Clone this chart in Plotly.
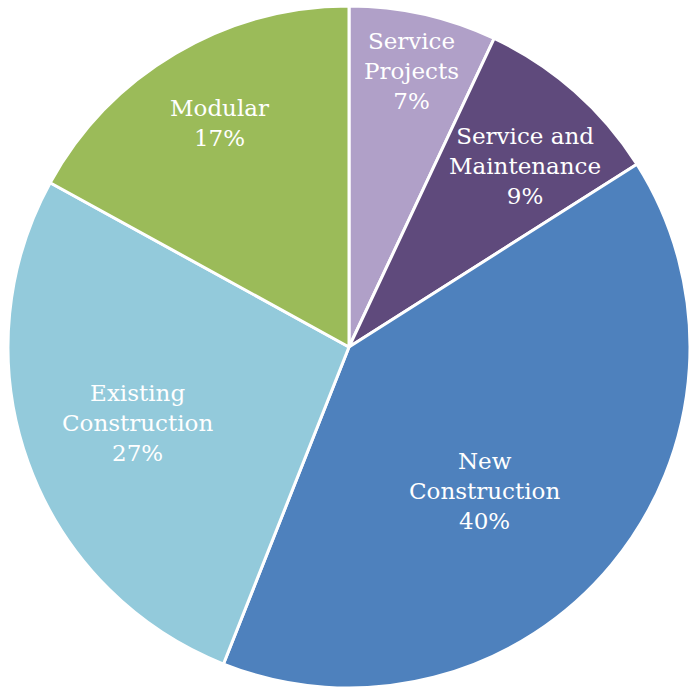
import math
import plotly.graph_objects as go

labels = ["Service<br>Projects", "Service and<br>Maintenance", "New<br>Construction",
          "Existing<br>Construction", "Modular"]
values = [7, 9, 40, 27, 17]
colors = ["#B0A0C8", "#5F4A7C", "#4E81BD", "#93CADB", "#9BBB59"]

# style: label placement inside each slice
label_radius = [0.83, 0.74, 0.58, 0.66, 0.76]   # fraction of the radius
label_angle = [0.51, 0.59, 0.55, 0.50, 0.51]    # fraction along the slice

W, H = 690, 689
ML, MR, MT, MB = 8, 0, 5, 0
pw, ph = W - ML - MR, H - MT - MB
R = min(pw, ph) / 2

fig = go.Figure(go.Pie(
    labels=labels,
    values=values,
    sort=False,
    direction="clockwise",
    rotation=0,
    marker=dict(colors=colors, line=dict(color="white", width=3)),
    textinfo="none",
    hoverinfo="label+percent",
    showlegend=False,
))

total = sum(values)
cum = 0
annotations = []
for lab, v, rf, af in zip(labels, values, label_radius, label_angle):
    ang = (cum + v * af) / total * 2 * math.pi
    cum += v
    dx = rf * R * math.sin(ang)
    dy = rf * R * math.cos(ang)
    annotations.append(dict(
        x=0.5 + dx / pw, y=0.5 + dy / ph, xref="paper", yref="paper",
        text=f"{lab}<br>{round(v / total * 100)}%",
        showarrow=False, xanchor="center", yanchor="middle",
        font=dict(family="DejaVu Serif", size=23, color="white"),
    ))

fig.update_layout(
    width=W, height=H,
    margin=dict(l=ML, r=MR, t=MT, b=MB),
    paper_bgcolor="white",
    annotations=annotations,
)

fig.write_html("out.html", config={"displayModeBar": False},
               post_script="document.body.style.margin='0px';")
